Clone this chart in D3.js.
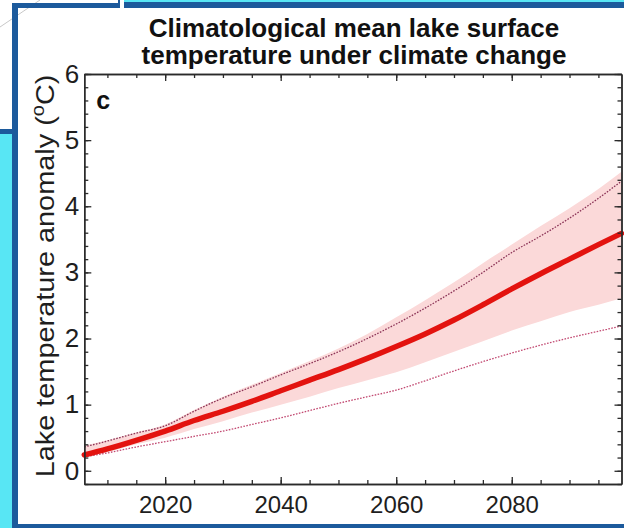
<!DOCTYPE html>
<html>
<head>
<meta charset="utf-8">
<script src="https://cdn.jsdelivr.net/npm/d3@7"></script>
<style>
  body { margin: 0; background: #fff; }
  svg { display: block; font-family: "Liberation Sans", Arial, sans-serif; }
</style>
</head>
<body>
<svg id="chart" width="624" height="528"></svg>
<script>
// values
const years       = [2006, 2010, 2015, 2020, 2025, 2030, 2035, 2040, 2045, 2050, 2055, 2060, 2065, 2070, 2075, 2080, 2085, 2090, 2095, 2099];
const meanAnomaly = [0.24, 0.33, 0.46, 0.60, 0.76, 0.90, 1.05, 1.21, 1.37, 1.53, 1.70, 1.88, 2.07, 2.28, 2.51, 2.75, 2.98, 3.20, 3.42, 3.59];
const bandUpper   = [0.38, 0.46, 0.58, 0.70, 0.92, 1.12, 1.30, 1.48, 1.66, 1.85, 2.07, 2.32, 2.58, 2.85, 3.14, 3.42, 3.70, 3.97, 4.26, 4.52];
const bandLower   = [0.20, 0.28, 0.40, 0.50, 0.63, 0.75, 0.88, 1.00, 1.12, 1.25, 1.37, 1.49, 1.64, 1.80, 1.96, 2.12, 2.26, 2.40, 2.51, 2.61];
const upperModel  = [0.36, 0.45, 0.57, 0.68, 0.90, 1.10, 1.27, 1.45, 1.62, 1.80, 2.00, 2.22, 2.46, 2.72, 3.00, 3.30, 3.55, 3.82, 4.12, 4.38];
const lowerModel  = [0.21, 0.27, 0.36, 0.44, 0.52, 0.60, 0.70, 0.80, 0.91, 1.02, 1.12, 1.22, 1.36, 1.51, 1.65, 1.78, 1.90, 2.01, 2.11, 2.19];

const xMajorTicks = [2020, 2040, 2060, 2080];
const xMinorTicks = d3.range(2010, 2100, 5);
const yMajorTicks = [0, 1, 2, 3, 4, 5, 6];
const yMinorTicks = d3.range(-0.2, 6.01, 0.2).map(v => +v.toFixed(1));

const titleLines = ['Climatological mean lake surface', 'temperature under climate change'];

const margin = { top: 74, right: 2.5, bottom: 44, left: 84.3 };
const W = 624, H = 528;
const width = W - margin.left - margin.right;
const height = H - margin.top - margin.bottom;

const svg = d3.select('#chart');

// slide frame behind the figure
const navy = '#1c5a9c', cyan = '#58e6f4';
svg.append('rect').attr('x', 0).attr('y', 0).attr('width', W).attr('height', H).attr('fill', '#fff');
svg.append('line').attr('x1', 0).attr('y1', 27).attr('x2', 40).attr('y2', 0).attr('stroke', '#c8c8c8').attr('stroke-width', 1);
svg.append('rect').attr('x', 0).attr('y', 134).attr('width', 12).attr('height', H).attr('fill', cyan);
svg.append('rect').attr('x', 0).attr('y', 129).attr('width', 12).attr('height', 5).attr('fill', navy);
svg.append('rect').attr('x', 124).attr('y', 0).attr('width', W).attr('height', 3).attr('fill', cyan);
svg.append('rect').attr('x', 124).attr('y', 2).attr('width', W).attr('height', 6).attr('fill', navy);
svg.append('rect').attr('x', 12).attr('y', 3).attr('width', 108).attr('height', 5).attr('fill', navy);
svg.append('rect').attr('x', 118).attr('y', 0).attr('width', 2).attr('height', 8).attr('fill', navy);
svg.append('rect').attr('x', 12).attr('y', 3).attr('width', 6).attr('height', H).attr('fill', navy);
svg.append('rect').attr('x', 12).attr('y', 524).attr('width', W).attr('height', 4).attr('fill', navy);

const x = d3.scaleLinear().domain([2006, 2099]).range([0, width]);
const y = d3.scaleLinear().domain([-0.2, 6]).range([height, 0]);

const g = svg.append('g').attr('transform', `translate(${margin.left},${margin.top})`);

const rows = years.map((yr, i) => ({
  yr, mean: meanAnomaly[i], hi: bandUpper[i], lo: bandLower[i], up: upperModel[i], dn: lowerModel[i]
}));

g.append('path')
  .datum(rows)
  .attr('fill', '#fbd9d9')
  .attr('d', d3.area().curve(d3.curveMonotoneX).x(d => x(d.yr)).y0(d => y(d.lo)).y1(d => y(d.hi)));

const line = key => d3.line().curve(d3.curveMonotoneX).x(d => x(d.yr)).y(d => y(d[key]));

g.append('path').datum(rows)
  .attr('fill', 'none').attr('stroke', '#8c3457').attr('stroke-width', 1.3)
  .attr('stroke-dasharray', '1.6,1.4').attr('d', line('up'));

g.append('path').datum(rows)
  .attr('fill', 'none').attr('stroke', '#c24a72').attr('stroke-width', 1.3)
  .attr('stroke-dasharray', '1.6,1.4').attr('d', line('dn'));

g.append('path').datum(rows)
  .attr('fill', 'none').attr('stroke', '#e3130f').attr('stroke-width', 5.5)
  .attr('stroke-linecap', 'round').attr('d', line('mean'));

// axes, ticks pointing into the box on all four sides
const axisColor = '#2a2a2a';
function styleAxis(sel) {
  sel.select('.domain').attr('stroke', axisColor).attr('stroke-width', 1.4);
  sel.selectAll('.tick line').attr('stroke', axisColor).attr('stroke-width', 1.3);
  sel.selectAll('.tick text').attr('fill', '#1e1e1e').style('font-size', '24px')
    .style('font-family', '"Liberation Sans", Arial, sans-serif');
}

g.append('g').attr('transform', `translate(0,${height})`)
  .call(d3.axisBottom(x).tickValues(xMinorTicks).tickSize(-4).tickSizeOuter(0).tickFormat(''))
  .call(styleAxis);
g.append('g').attr('transform', `translate(0,${height})`)
  .call(d3.axisBottom(x).tickValues(xMajorTicks).tickSizeInner(-7).tickSizeOuter(0).tickPadding(12).tickFormat(d3.format('d')))
  .call(styleAxis);
g.append('g')
  .call(d3.axisTop(x).tickValues(xMinorTicks).tickSize(-4).tickSizeOuter(0).tickFormat(''))
  .call(styleAxis);
g.append('g')
  .call(d3.axisTop(x).tickValues(xMajorTicks).tickSize(-7).tickSizeOuter(0).tickFormat(''))
  .call(styleAxis);

g.append('g')
  .call(d3.axisLeft(y).tickValues(yMinorTicks).tickSize(-4).tickSizeOuter(0).tickFormat(''))
  .call(styleAxis);
g.append('g')
  .call(d3.axisLeft(y).tickValues(yMajorTicks).tickSizeInner(-7).tickSizeOuter(0).tickPadding(5).tickFormat(d3.format('d')))
  .call(styleAxis)
  .selectAll('.tick text').style('font-size', '26px');
g.append('g').attr('transform', `translate(${width},0)`)
  .call(d3.axisRight(y).tickValues(yMinorTicks).tickSize(-4).tickSizeOuter(0).tickFormat(''))
  .call(styleAxis);
g.append('g').attr('transform', `translate(${width},0)`)
  .call(d3.axisRight(y).tickValues(yMajorTicks).tickSize(-7).tickSizeOuter(0).tickFormat(''))
  .call(styleAxis);

// panel letter
g.append('text')
  .attr('x', 12).attr('y', 35)
  .style('font-size', '25px').style('font-weight', 'bold').attr('fill', '#111')
  .text('c');

// y axis title with superscript degree, stretched to the height it fills in the reference
const yLabel = svg.append('text')
  .attr('text-anchor', 'middle')
  .attr('fill', '#1e1e1e')
  .style('font-size', '26px');
yLabel.append('tspan').text('Lake temperature anomaly (');
yLabel.append('tspan').attr('dy', -10).style('font-size', '18px').text('o');
yLabel.append('tspan').attr('dy', 10).text('C)');
const labelLen = yLabel.node().getComputedTextLength();
yLabel.attr('transform', `translate(54,276) rotate(-90) scale(${403 / labelLen},1)`);

// title
svg.append('g').selectAll('text')
  .data(titleLines)
  .join('text')
  .attr('x', 354)
  .attr('y', (d, i) => 37 + i * 27)
  .attr('text-anchor', 'middle')
  .attr('fill', '#111')
  .style('font-size', '26px')
  .style('font-weight', 'bold')
  .text(d => d);
</script>
</body>
</html>
